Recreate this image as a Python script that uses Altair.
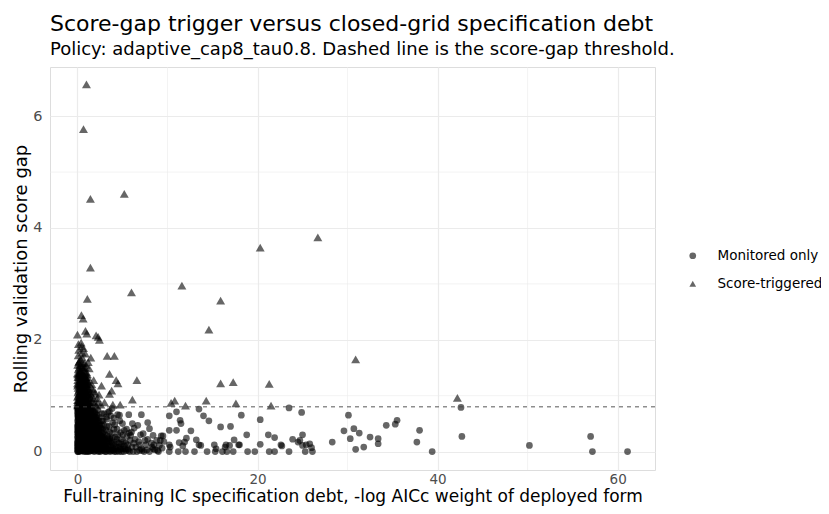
import altair as alt
import pandas as pd

GROUPS = ["Monitored only", "Score-triggered"]
X_TICKS = [0, 20, 40, 60]
Y_TICKS = [0, 2, 4, 6]
X_MINOR = [10, 30, 50]
Y_MINOR = [1, 3, 5]
THRESHOLD = [0.8]

# Monitored only (circles): dense cluster near origin
mon_cluster = [
    (0.02, 0.00), (0.05, 0.05), (0.10, 0.12), (0.03, 0.18), (0.15, 0.24), (0.08, 0.30), (0.20, 0.36),
    (0.04, 0.42), (0.12, 0.48), (0.25, 0.54), (0.06, 0.60), (0.18, 0.66), (0.09, 0.72), (0.22, 0.78),
    (0.01, 0.76), (0.28, 0.08), (0.14, 0.02), (0.30, 0.15), (0.27, 0.45), (0.11, 0.68),
    (0.35, 0.01), (0.42, 0.06), (0.50, 0.11), (0.38, 0.17), (0.55, 0.22), (0.45, 0.28), (0.62, 0.33),
    (0.33, 0.39), (0.58, 0.44), (0.40, 0.50), (0.66, 0.55), (0.48, 0.61), (0.36, 0.67), (0.60, 0.72),
    (0.44, 0.77), (0.68, 0.03), (0.52, 0.38), (0.64, 0.64), (0.39, 0.26), (0.57, 0.10),
    (0.72, 0.00), (0.80, 0.07), (0.95, 0.13), (0.76, 0.19), (1.02, 0.25), (0.88, 0.31), (0.74, 0.37),
    (1.06, 0.43), (0.83, 0.49), (0.97, 0.55), (0.78, 0.61), (1.04, 0.67), (0.90, 0.73), (0.75, 0.79),
    (1.08, 0.05), (0.86, 0.22), (0.99, 0.40), (0.81, 0.70), (1.00, 0.02), (0.92, 0.58),
    (1.12, 0.01), (1.25, 0.08), (1.40, 0.14), (1.18, 0.20), (1.52, 0.26), (1.30, 0.32), (1.15, 0.38),
    (1.45, 0.44), (1.22, 0.50), (1.58, 0.56), (1.35, 0.62), (1.20, 0.68), (1.48, 0.74), (1.28, 0.79),
    (1.55, 0.03), (1.38, 0.23), (1.14, 0.47), (1.42, 0.64), (1.60, 0.11), (1.33, 0.00),
    (1.62, 0.02), (1.75, 0.09), (1.90, 0.15), (1.68, 0.21), (2.05, 0.27), (1.82, 0.33), (2.15, 0.39),
    (1.70, 0.45), (1.95, 0.51), (2.10, 0.57), (1.78, 0.63), (2.00, 0.70), (1.65, 0.76), (2.18, 0.04),
    (1.88, 0.00), (2.08, 0.18), (1.72, 0.36), (1.98, 0.42),
    (2.25, 0.01), (2.40, 0.06), (2.60, 0.12), (2.30, 0.19), (2.75, 0.24), (2.50, 0.30), (2.90, 0.36),
    (2.35, 0.42), (2.65, 0.48), (2.85, 0.55), (2.45, 0.61), (2.70, 0.68), (2.28, 0.74), (2.95, 0.02),
    (2.55, 0.00), (2.80, 0.15), (2.38, 0.27), (2.62, 0.40),
    (3.05, 0.00), (3.20, 0.05), (3.45, 0.10), (3.10, 0.18), (3.60, 0.22), (3.30, 0.28), (3.80, 0.33),
    (3.15, 0.39), (3.50, 0.45), (3.90, 0.52), (3.25, 0.58), (3.70, 0.64), (3.40, 0.70), (3.95, 0.03),
    (3.65, 0.00), (3.35, 0.14),
    (4.10, 0.00), (4.30, 0.08), (4.60, 0.15), (4.20, 0.26), (4.80, 0.34), (4.40, 0.40), (5.10, 0.18),
    (5.30, 0.05), (4.90, 0.00), (5.60, 0.12), (5.50, 0.27), (4.15, 0.48), (4.70, 0.55), (5.80, 0.00),
    (5.20, 0.38), (4.50, 0.02),
    (6.20, 0.00), (6.50, 0.08), (6.80, 0.18), (7.20, 0.02), (7.60, 0.12), (8.00, 0.00), (8.60, 0.03),
    (9.00, 0.00), (9.40, 0.06), (6.40, 0.22), (7.00, 0.30), (7.80, 0.22), (8.20, 0.15), (8.80, 0.20),
    (9.60, 0.18), (6.00, 0.35),
]
mon_dense = [
    (0.00, 0.03), (0.02, 0.10), (0.04, 0.21), (0.00, 0.33), (0.03, 0.47), (0.01, 0.55), (0.05, 0.63),
    (0.00, 0.70), (0.02, 0.27), (0.06, 0.39), (0.00, 0.15), (0.04, 0.79),
    (0.16, 0.06), (0.19, 0.14), (0.13, 0.29), (0.17, 0.41), (0.21, 0.51), (0.15, 0.58), (0.23, 0.71),
    (0.19, 0.20), (0.26, 0.33), (0.14, 0.74), (0.24, 0.63), (0.29, 0.25),
    (0.31, 0.04), (0.34, 0.12), (0.37, 0.23), (0.32, 0.34), (0.36, 0.46), (0.41, 0.57), (0.33, 0.71),
    (0.43, 0.65), (0.46, 0.15), (0.47, 0.36), (0.49, 0.47), (0.42, 0.79),
    (0.51, 0.02), (0.53, 0.18), (0.56, 0.30), (0.59, 0.52), (0.61, 0.60), (0.54, 0.69), (0.63, 0.78),
    (0.66, 0.13), (0.69, 0.25), (0.71, 0.44), (0.68, 0.58), (0.70, 0.71),
    (0.73, 0.09), (0.77, 0.29), (0.79, 0.41), (0.82, 0.53), (0.84, 0.64), (0.87, 0.76), (0.91, 0.04),
    (0.93, 0.17), (0.94, 0.36), (0.96, 0.47), (0.98, 0.66), (0.99, 0.77),
    (1.01, 0.09), (1.03, 0.20), (1.07, 0.33), (1.09, 0.53), (1.11, 0.61), (1.13, 0.72), (1.16, 0.13),
    (1.19, 0.27), (1.23, 0.41), (1.26, 0.57), (1.29, 0.69), (1.31, 0.06),
    (1.34, 0.17), (1.37, 0.36), (1.41, 0.49), (1.44, 0.59), (1.46, 0.02), (1.49, 0.21), (1.53, 0.33),
    (1.56, 0.45), (1.59, 0.67), (1.27, 0.75), (1.39, 0.78), (1.11, 0.00),
    (1.63, 0.13), (1.66, 0.30), (1.69, 0.55), (1.73, 0.05), (1.77, 0.26), (1.80, 0.48), (1.84, 0.60),
    (1.87, 0.11), (1.91, 0.38), (1.94, 0.68), (1.97, 0.03), (2.02, 0.22),
    (2.06, 0.45), (2.12, 0.10), (2.17, 0.31), (2.22, 0.52), (2.27, 0.06), (2.33, 0.35), (2.41, 0.15),
    (2.48, 0.47), (2.52, 0.21), (2.58, 0.05), (2.66, 0.29), (2.72, 0.10),
    (2.78, 0.40), (2.83, 0.02), (2.92, 0.20), (2.99, 0.12), (3.08, 0.30), (3.18, 0.08), (3.27, 0.45),
    (3.38, 0.03), (3.48, 0.19), (3.57, 0.35), (3.68, 0.10), (3.77, 0.02),
    (3.86, 0.25), (3.98, 0.12), (4.05, 0.40), (4.22, 0.05), (4.35, 0.18), (4.48, 0.30), (4.62, 0.00),
    (4.75, 0.09), (4.88, 0.22), (5.02, 0.05), (5.15, 0.00), (5.35, 0.15),
    (5.45, 0.40), (5.65, 0.02), (5.85, 0.20), (6.05, 0.08), (6.25, 0.15), (6.60, 0.00), (6.90, 0.12),
    (7.10, 0.05), (7.40, 0.00), (7.70, 0.03), (8.30, 0.08), (8.90, 0.02),
    (5.05, 0.30), (5.75, 0.33), (6.30, 0.42), (7.50, 0.20), (8.50, 0.12), (9.20, 0.20), (3.20, 0.62),
    (3.55, 0.72), (4.05, 0.60), (4.45, 0.66), (3.85, 0.77), (2.95, 0.68),
]
mon_dense2 = [
    (0.01, 0.08), (0.07, 0.16), (0.03, 0.25), (0.09, 0.35), (0.02, 0.44), (0.08, 0.52), (0.04, 0.66),
    (0.10, 0.75), (0.12, 0.05), (0.13, 0.40), (0.11, 0.57), (0.07, 0.00),
    (0.18, 0.10), (0.22, 0.19), (0.17, 0.31), (0.24, 0.43), (0.20, 0.47), (0.16, 0.62), (0.25, 0.70),
    (0.21, 0.79), (0.27, 0.03), (0.29, 0.38), (0.26, 0.58), (0.28, 0.66),
    (0.32, 0.08), (0.35, 0.20), (0.38, 0.30), (0.34, 0.43), (0.39, 0.54), (0.31, 0.60), (0.37, 0.74),
    (0.40, 0.02), (0.43, 0.10), (0.44, 0.33), (0.41, 0.44), (0.45, 0.70),
    (0.47, 0.05), (0.49, 0.24), (0.51, 0.34), (0.53, 0.45), (0.48, 0.55), (0.55, 0.62), (0.52, 0.75),
    (0.57, 0.16), (0.59, 0.27), (0.56, 0.40), (0.60, 0.57), (0.58, 0.67),
    (0.62, 0.06), (0.64, 0.19), (0.65, 0.37), (0.63, 0.48), (0.67, 0.70), (0.69, 0.79), (0.71, 0.15),
    (0.70, 0.33), (0.73, 0.52), (0.74, 0.62), (0.72, 0.28), (0.76, 0.45),
    (0.78, 0.02), (0.79, 0.14), (0.81, 0.26), (0.80, 0.36), (0.83, 0.58), (0.85, 0.68), (0.86, 0.10),
    (0.87, 0.43), (0.89, 0.20), (0.90, 0.51), (0.91, 0.63), (0.88, 0.78),
    (0.93, 0.07), (0.94, 0.27), (0.96, 0.39), (0.97, 0.71), (1.00, 0.16), (1.02, 0.35), (1.03, 0.51),
    (1.05, 0.60), (1.06, 0.75), (1.08, 0.12), (1.09, 0.28), (1.10, 0.40),
    (1.12, 0.66), (1.14, 0.55), (1.16, 0.03), (1.17, 0.24), (1.19, 0.44), (1.21, 0.62), (1.22, 0.78),
    (1.24, 0.15), (1.26, 0.35), (1.28, 0.48), (1.30, 0.71), (1.32, 0.26),
    (1.34, 0.05), (1.36, 0.54), (1.38, 0.66), (1.40, 0.40), (1.42, 0.19), (1.44, 0.08), (1.47, 0.31),
    (1.50, 0.52), (1.52, 0.63), (1.54, 0.12), (1.57, 0.38), (1.60, 0.25),
    (1.62, 0.48), (1.64, 0.06), (1.67, 0.62), (1.70, 0.17), (1.72, 0.70), (1.74, 0.40), (1.77, 0.53),
    (1.80, 0.01), (1.83, 0.22), (1.86, 0.46), (1.89, 0.29), (1.92, 0.58),
    (1.95, 0.10), (1.99, 0.34), (2.03, 0.61), (2.07, 0.04), (2.11, 0.48), (2.15, 0.20), (2.20, 0.65),
    (2.24, 0.29), (2.29, 0.11), (2.34, 0.55), (2.39, 0.37), (2.44, 0.02),
    (2.49, 0.16), (2.54, 0.43), (2.59, 0.27), (2.64, 0.08), (2.69, 0.55), (2.74, 0.18), (2.79, 0.33),
    (2.84, 0.07), (2.89, 0.48), (2.94, 0.26), (2.98, 0.05), (3.02, 0.15),
]
mon_dense3 = [
    (0.05, 0.12), (0.15, 0.35), (0.25, 0.02), (0.35, 0.55), (0.45, 0.25), (0.55, 0.75), (0.65, 0.42),
    (0.75, 0.06), (0.85, 0.33), (0.95, 0.60), (1.05, 0.18), (1.15, 0.50),
    (0.08, 0.64), (0.18, 0.22), (0.28, 0.49), (0.38, 0.10), (0.48, 0.68), (0.58, 0.34), (0.68, 0.77),
    (0.78, 0.50), (0.88, 0.12), (0.98, 0.29), (1.08, 0.70), (1.18, 0.08),
    (0.02, 0.37), (0.12, 0.78), (0.22, 0.56), (0.32, 0.28), (0.42, 0.01), (0.52, 0.52), (0.62, 0.20),
    (0.72, 0.65), (0.82, 0.44), (0.92, 0.00), (1.02, 0.45), (1.12, 0.30),
    (0.06, 0.49), (0.16, 0.00), (0.26, 0.16), (0.36, 0.64), (0.46, 0.42), (0.56, 0.08), (0.66, 0.27),
    (0.76, 0.56), (0.86, 0.71), (0.96, 0.22), (1.06, 0.04), (1.16, 0.63),
    (1.25, 0.22), (1.35, 0.45), (1.45, 0.68), (1.55, 0.15), (1.65, 0.40), (1.75, 0.62), (1.85, 0.05),
    (1.95, 0.28), (2.05, 0.50), (2.15, 0.13), (2.25, 0.42), (2.35, 0.00),
    (1.28, 0.58), (1.38, 0.02), (1.48, 0.36), (1.58, 0.78), (1.68, 0.10), (1.78, 0.33), (1.88, 0.70),
    (1.98, 0.18), (2.08, 0.37), (2.18, 0.60), (2.28, 0.24), (2.38, 0.49),
    (2.5, 0.09), (2.7, 0.03), (2.9, 0.11), (3.1, 0.06), (3.3, 0.16), (3.5, 0.01), (3.7, 0.18),
    (3.9, 0.07), (4.1, 0.14), (4.3, 0.00), (4.6, 0.08), (4.9, 0.13),
    (2.6, 0.20), (2.8, 0.26), (3.0, 0.22), (3.2, 0.00), (3.4, 0.24), (3.6, 0.04), (3.8, 0.15),
    (4.0, 0.02), (4.4, 0.22), (4.8, 0.04), (5.2, 0.10), (5.6, 0.05),
]
mon_mid = [
    (4.67, 0.65), (5.7, 0.66), (7.1, 0.66), (5.0, 0.50), (6.1, 0.50), (6.7, 0.47), (7.8, 0.52),
    (8.0, 0.41), (7.3, 0.32), (8.4, 0.29), (9.3, 0.28), (5.9, 0.29), (9.1, 0.11), (8.4, 0.05),
    (6.9, 0.02), (5.4, 0.02), (3.6, 0.23),
]
mon_far = [
    (10.2, 0.64), (11.0, 0.71), (11.4, 0.56), (11.5, 0.50), (10.2, 0.38), (11.0, 0.38), (12.6, 0.37),
    (9.5, 0.28), (12.1, 0.24), (11.9, 0.17), (13.2, 0.21), (13.7, 0.11), (11.3, 0.16), (10.3, 0.08),
    (11.7, 0.10), (10.2, 0.12), (13.5, 0.12),
    (13.5, 0.76), (14.0, 0.64), (14.6, 0.55), (15.9, 0.44), (17.0, 0.45), (18.2, 0.65), (18.8, 0.30),
    (20.3, 0.57), (23.5, 0.78), (24.9, 0.70),
    (17.4, 0.21), (16.9, 0.11), (17.9, 0.12), (15.2, 0.12), (16.5, 0.12), (18.0, 0.12), (20.3, 0.13),
    (21.2, 0.30), (21.9, 0.25), (22.7, 0.10), (23.9, 0.22), (25.0, 0.30), (24.5, 0.17), (25.4, 0.12),
    (22.6, 0.12),
    (10.2, 0.0), (11.2, 0.0), (12.0, 0.0), (13.0, 0.0), (14.4, 0.0), (15.3, 0.0), (16.1, 0.0),
    (16.6, 0.0), (17.3, 0.0), (18.9, 0.0), (19.7, 0.0), (21.3, 0.0), (21.9, 0.0), (23.5, 0.0),
    (25.3, 0.0), (26.1, 0.0), (15.4, 0.05), (16.4, 0.08), (26.0, 0.07), (25.8, 0.14), (25.0, 0.11),
    (24.7, 0.20),
    (28.3, 0.17), (29.6, 0.37), (30.1, 0.65), (30.7, 0.41), (31.3, 0.33), (30.3, 0.23), (30.9, 0.04),
    (31.8, 0.08), (32.5, 0.26), (33.4, 0.23), (33.4, 0.14), (34.3, 0.47), (35.3, 0.49), (35.5, 0.56),
    (38.0, 0.38), (37.7, 0.17), (39.4, 0.0), (42.6, 0.79), (42.7, 0.27), (50.2, 0.11), (57.0, 0.27),
    (57.2, 0.0), (61.1, 0.0),
]

# Score-triggered (triangles)
trig_out = [
    (1.0, 6.57), (0.67, 5.77), (1.44, 4.52), (5.2, 4.61), (1.44, 3.29), (1.1, 2.73), (6.0, 2.85),
    (11.6, 2.97), (15.9, 2.70), (14.6, 2.18), (20.3, 3.65), (26.7, 3.83), (30.9, 1.65), (42.2, 0.96),
    (15.9, 1.22), (17.3, 1.24), (21.3, 1.21), (6.6, 1.28), (6.1, 0.93), (10.4, 0.87), (10.8, 0.91),
    (12.0, 0.82), (14.3, 0.91), (17.6, 0.86), (21.5, 0.82),
]
trig_cluster = [
    (0.44, 2.44), (0.63, 2.38), (0.0, 2.09), (0.89, 2.16), (1.04, 2.11), (2.07, 2.08), (2.44, 2.0),
    (2.3, 2.05), (0.11, 1.92), (0.41, 1.95), (0.67, 1.85), (0.52, 1.77), (1.48, 1.68), (0.14, 1.60),
    (3.3, 1.71), (4.1, 1.71), (1.3, 1.49), (0.67, 1.36), (3.56, 1.39), (1.8, 1.28), (2.67, 1.18),
    (4.3, 1.28), (4.5, 1.22), (3.56, 1.03), (3.8, 1.09), (1.7, 1.12), (2.26, 0.88), (3.0, 0.88),
    (3.93, 0.84), (4.74, 0.84), (2.6, 0.84),
    (0.05, 0.82), (0.20, 0.86), (0.35, 0.90), (0.50, 0.84), (0.65, 0.95), (0.80, 0.88), (0.95, 0.83),
    (1.10, 0.92), (1.25, 0.86), (1.40, 0.97), (0.10, 1.00), (0.28, 1.05), (0.45, 1.10), (0.60, 1.02),
    (0.75, 1.15), (0.90, 1.08), (1.05, 1.20), (1.20, 1.03), (1.35, 1.12), (0.02, 1.18), (0.18, 1.25),
    (0.38, 1.30), (0.55, 1.22), (0.70, 1.38), (0.85, 1.28), (1.00, 1.42), (0.30, 1.45), (0.12, 1.36),
    (0.48, 0.96), (0.72, 0.81), (1.15, 1.33), (1.55, 1.00), (1.65, 0.90), (1.80, 0.95), (2.00, 1.05),
    (0.58, 1.50), (0.25, 1.55), (0.95, 1.55), (0.08, 1.72), (0.35, 1.65), (0.00, 1.40), (0.40, 0.80),
    (1.50, 0.82), (2.10, 0.82),
]
trig_dense = [
    (0.03, 0.88), (0.15, 0.93), (0.26, 0.82), (0.33, 0.98), (0.44, 0.87), (0.57, 0.91), (0.69, 0.86),
    (0.83, 0.97), (0.99, 0.90), (1.18, 0.84), (1.32, 0.95), (1.45, 0.88),
    (0.06, 1.06), (0.22, 1.12), (0.37, 1.02), (0.52, 1.16), (0.66, 1.07), (0.81, 1.21), (0.96, 1.12),
    (1.12, 1.15), (1.27, 1.22), (1.42, 1.06), (0.04, 1.28), (0.16, 1.33),
    (0.31, 1.21), (0.46, 1.38), (0.62, 1.29), (0.78, 1.44), (0.92, 1.33), (1.07, 1.30), (0.09, 1.47),
    (0.42, 1.52), (0.74, 1.58), (0.21, 1.62), (0.03, 1.55), (0.55, 1.68),
    (0.88, 1.75), (0.15, 1.82), (0.48, 1.88), (1.20, 1.60), (1.60, 1.20), (1.75, 1.08), (2.20, 0.95),
    (2.40, 1.02), (1.90, 0.86),
    (0.01, 0.84), (0.09, 0.91), (0.18, 0.80), (0.24, 0.97), (0.30, 0.87), (0.41, 0.93), (0.53, 0.81),
    (0.62, 0.89), (0.76, 0.92), (0.88, 0.82), (1.03, 0.85), (1.22, 0.91),
    (0.00, 0.98), (0.13, 1.09), (0.25, 1.15), (0.34, 1.08), (0.49, 1.04), (0.58, 1.12), (0.71, 1.01),
    (0.86, 1.17), (1.00, 1.05), (1.16, 1.24), (1.30, 1.02),
    (0.01, 1.22), (0.10, 1.20), (0.21, 1.40), (0.36, 1.25), (0.50, 1.32), (0.64, 1.20), (0.80, 1.33),
    (0.95, 1.25), (1.10, 1.38),
    (0.06, 1.33), (0.27, 1.30), (0.40, 1.42), (0.58, 1.40), (0.68, 1.50), (0.85, 1.50), (0.18, 1.50),
    (0.50, 1.58),
    (0.02, 0.92), (0.12, 0.83), (0.22, 0.99), (0.32, 0.92), (0.42, 0.83), (0.52, 0.99), (0.62, 0.84),
    (0.72, 0.97), (0.82, 0.84), (0.92, 0.96), (1.02, 0.81), (1.12, 0.98),
    (0.07, 1.14), (0.17, 1.03), (0.27, 1.18), (0.37, 1.12), (0.47, 1.24), (0.57, 1.06), (0.67, 1.20),
    (0.77, 1.09), (0.87, 1.22), (0.97, 1.03), (1.07, 1.16), (1.22, 1.09),
    (0.05, 1.38), (0.25, 1.42), (0.45, 1.27), (0.65, 1.35), (0.85, 1.40), (1.05, 1.26),
]

mon = mon_cluster + mon_dense + mon_dense2 + mon_dense3 + mon_mid + mon_far
trig = trig_out + trig_cluster + trig_dense

df = pd.DataFrame({
    "x": [p[0] for p in mon] + [p[0] for p in trig],
    "y": [p[1] for p in mon] + [p[1] for p in trig],
    "group": [GROUPS[0]] * len(mon) + [GROUPS[1]] * len(trig),
})

FONT = "DejaVu Sans"
X_TITLE = "Full-training IC specification debt, -log AICc weight of deployed form"
Y_TITLE = "Rolling validation score gap"
xs = alt.Scale(domain=[-3.05, 64.15], nice=False, zero=False)
ys = alt.Scale(domain=[-0.33, 6.88], nice=False, zero=False)

xaxis = alt.Axis(values=X_TICKS, grid=True, gridColor="#ebebeb", gridWidth=1.2, ticks=False,
                 domain=False, labelColor="#4d4d4d", labelFontSize=13.5, labelPadding=2,
                 labelFont=FONT, titleFont=FONT, titleFontSize=17, titleColor="black",
                 titleFontWeight="normal", titlePadding=3)
yaxis = alt.Axis(values=Y_TICKS, grid=True, gridColor="#ebebeb", gridWidth=1.2, ticks=False,
                 domain=False, labelColor="#4d4d4d", labelFontSize=14.5, labelPadding=8,
                 labelFont=FONT, titleFont=FONT, titleFontSize=18, titleColor="black",
                 titleFontWeight="normal", titlePadding=2)

shape_enc = alt.Shape(
    "group:N", scale=alt.Scale(domain=GROUPS, range=["circle", "triangle-up"]),
    legend=alt.Legend(title=None, orient="none", legendX=636, legendY=182,
                      labelFontSize=13.5, labelFont=FONT, labelColor="black",
                      symbolSize=45, symbolFillColor="black", symbolOpacity=0.6,
                      symbolStrokeWidth=0, labelOffset=18, rowPadding=13, padding=0),
)

vminor = alt.Chart(pd.DataFrame({"v": X_MINOR})).mark_rule(color="#ebebeb", strokeWidth=0.6).encode(
    x=alt.X("v:Q", scale=xs, title=X_TITLE, axis=xaxis))
hminor = alt.Chart(pd.DataFrame({"v": Y_MINOR})).mark_rule(color="#ebebeb", strokeWidth=0.6).encode(
    y=alt.Y("v:Q", scale=ys, title=Y_TITLE, axis=yaxis))

base = alt.Chart(df).encode(
    x=alt.X("x:Q", scale=xs, title=X_TITLE, axis=xaxis),
    y=alt.Y("y:Q", scale=ys, title=Y_TITLE, axis=yaxis),
    shape=shape_enc,
)
circles = base.transform_filter(alt.datum.group == GROUPS[0]).mark_point(
    filled=True, color="black", opacity=0.6, strokeWidth=0, size=45)
triangles = base.transform_filter(alt.datum.group == GROUPS[1]).mark_point(
    filled=True, color="black", opacity=0.6, strokeWidth=0, size=80)

thr = alt.Chart(pd.DataFrame({"t": THRESHOLD})).mark_rule(color="#444444", strokeWidth=0.9,
                                                           strokeDash=[4, 4]).encode(
    y=alt.Y("t:Q", scale=ys, title=Y_TITLE, axis=yaxis))

chart = alt.layer(vminor, hminor, circles, triangles, thr).properties(
    width=605, height=403,
    autosize=alt.AutoSizeParams(type="none"),
    padding={"left": 42, "top": 59, "right": 166, "bottom": 36},
    title=alt.TitleParams(
        text="Score-gap trigger versus closed-grid specification debt",
        subtitle="Policy: adaptive_cap8_tau0.8. Dashed line is the score-gap threshold.",
        anchor="start", frame="group", font=FONT, fontSize=22, fontWeight="normal", color="black",
        subtitleFont=FONT, subtitleFontSize=18, subtitleColor="black", subtitlePadding=5,
        offset=7,
    ),
).configure_view(stroke=None).configure(background="white")

chart.save("out.html", embed_options={"renderer": "svg", "actions": False})
